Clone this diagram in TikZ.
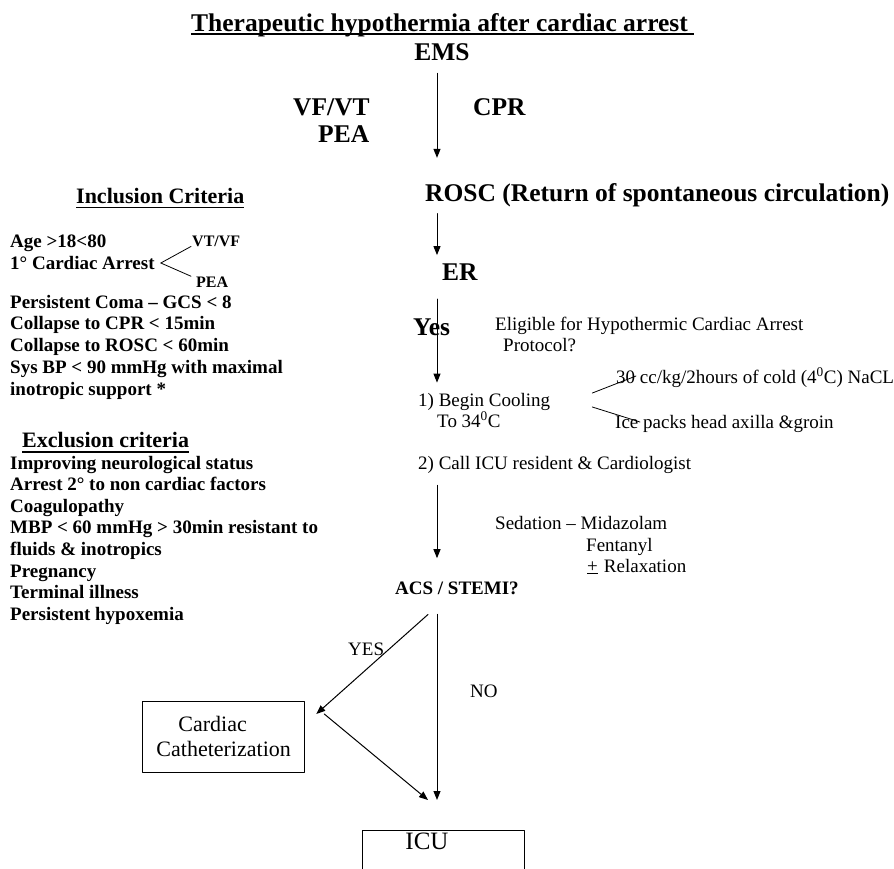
\documentclass[tikz,border=0pt]{standalone}
\usepackage{fontspec}
\setmainfont{Liberation Serif}
\usetikzlibrary{arrows.meta,calc}

\begin{document}
\begin{tikzpicture}[x=1pt, y=-1pt, line join=round, line cap=round, >={Triangle[length=9pt,width=7pt]},
	stage/.style={font=\fontsize{25.5}{30}\selectfont\bfseries, inner sep=0pt, anchor=base west},
	crithead/.style={font=\fontsize{22}{26}\selectfont\bfseries, inner sep=0pt, anchor=base west},
	crit/.style={font=\fontsize{19}{21.5}\selectfont\bfseries, inner sep=0pt, anchor=base west},
	forklbl/.style={font=\fontsize{16}{19}\selectfont\bfseries, inner sep=0pt, anchor=base west},
	txt/.style={font=\fontsize{19}{21.5}\selectfont, inner sep=0pt, anchor=base west},
	boxed/.style={draw, line width=0.9pt, font=\fontsize{22}{25}\selectfont},
	flow/.style={->, line width=1pt},
	tick/.style={line width=0.8pt}]
	\useasboundingbox (0,0) rectangle (894,868);
	\coordinate (spine) at (437,0);
	% title and EMS part
	\node[stage] (title) at (191,31) {Therapeutic hypothermia after cardiac arrest};
	\draw[line width=2.5pt, line cap=butt] ([yshift=-3pt]title.base west) -- ([xshift=6pt,yshift=-3pt]title.base east);
	\node[stage, anchor=base] (ems) at (442,60) {EMS};
	\node[stage] (vfvt) at (293,115) {VF/VT};
	\node[stage] (pea) at (318,142) {PEA};
	\node[stage] (cpr) at (473,115) {CPR};
	\node[stage] (rosc) at (425,201) {ROSC (Return of spontaneous circulation)};
	\node[stage] (er) at (442,280) {ER};
	\node[stage] (yes) at (413,335) {Yes};
	\node[txt] (elig) at (495,330) {Eligible for Hypothermic Cardiac Arrest};
	\node[txt] (proto) at (503,351) {Protocol?};
	% cooling
	\node[txt] (cool) at (418,406) {1) Begin Cooling};
	\node[txt] (target) at (437,427) {To 34\textsuperscript{0}C};
	\node[txt] (saline) at (616,383) {30 cc/kg/2hours of cold (4\textsuperscript{0}C) NaCL};
	\node[txt] (ice) at (615,428) {Ice packs head axilla \&groin};
	\draw[tick] ([xshift=42pt,yshift=13pt]cool.base east) -- ([xshift=20pt,yshift=7pt]saline.base west);
	\draw[tick] ([xshift=42pt,yshift=-1pt]cool.base east) -- ([xshift=25pt,yshift=6pt]ice.base west);
	\node[txt] (call) at (418,469) {2) Call ICU resident \& Cardiologist};
	\node[txt] (sed) at (495,529) {Sedation -- Midazolam};
	\node[txt] (fent) at (586,551) {Fentanyl};
	\node[txt] (relax) at (587,572) {\underline{+}\hspace{6pt}Relaxation};
	\node[crit] (acs) at (395,594) {ACS / STEMI?};
	\node[txt] (yeslbl) at (348,655) {YES};
	\node[txt] (nolbl) at (470,697) {NO};
	\node[boxed, align=left, inner xsep=14pt, minimum height=71pt, anchor=north west] (cath) at (142,701) {\hspace*{22pt}Cardiac\\Catheterization};
	\node[boxed, anchor=north west, inner xsep=43pt, inner ysep=2pt, text height=17pt, text depth=32pt, text width=76pt, align=left, font=\fontsize{25}{30}\selectfont] (icu) at (362,830) {ICU};
	% spine arrows
	\draw[flow, shorten <=13pt, shorten >=25pt] (ems.south -| spine) -- (rosc.north -| spine);
	\draw[flow, shorten <=7pt, shorten >=8pt] (rosc.south -| spine) -- (er.north -| spine);
	\draw[flow, shorten <=19pt, shorten >=10pt] (er.south -| spine) -- (cool.north -| spine);
	\draw[flow, shorten <=12pt, shorten >=23pt] (call.south -| spine) -- (acs.north -| spine);
	\draw[flow, shorten <=20pt, shorten >=30pt] (acs.south -| spine) -- (icu.north -| spine);
	\coordinate (split) at ([xshift=-9pt,yshift=-20pt]acs.south -| spine);
	\draw[flow] (split) -- ([xshift=11pt,yshift=-13pt]cath.north east);
	\draw[flow] ([xshift=19pt,yshift=-13pt]cath.north east) -- ([xshift=-9pt,yshift=30pt]icu.north -| spine);
	% inclusion criteria
	\node[crithead] (inclhead) at (76,203) {Inclusion Criteria};
	\draw[line width=1.7pt, line cap=butt] ([yshift=-4.5pt]inclhead.base west) -- ([yshift=-4.5pt]inclhead.base east);
	\node[crit] (age) at (10,247) {Age >18<80};
	\node[crit] (arrest) at (10,269) {1° Cardiac Arrest};
	\node[forklbl] (vtvf) at (192,246) {VT/VF};
	\node[forklbl] (peasub) at (196,287) {PEA};
	\coordinate (fork) at ([xshift=6pt,yshift=6pt]arrest.base east);
	\draw[tick] (fork) -- ([xshift=-1pt]vtvf.south west);
	\draw[tick] (fork) -- ([xshift=-5pt]peasub.north west);
	\foreach \line [count=\i from 0] in {Persistent Coma -- GCS < 8, Collapse to CPR < 15min,
		Collapse to ROSC < 60min, Sys BP < 90 mmHg with maximal, inotropic support *}
		\node[crit] (inc\i) at (10,{308+21.75*\i}) {\line};
	% exclusion criteria
	\node[crithead] (exclhead) at (22,447) {Exclusion criteria};
	\draw[line width=1.7pt, line cap=butt] ([yshift=-5pt]exclhead.base west) -- ([yshift=-5pt]exclhead.base east);
	\foreach \line [count=\i from 0] in {Improving neurological status, Arrest 2° to non cardiac factors,
		Coagulopathy, MBP < 60 mmHg > 30min resistant to, fluids \& inotropics, Pregnancy,
		Terminal illness, Persistent hypoxemia}
		\node[crit] (exc\i) at (10,{469+21.6*\i}) {\line};
\end{tikzpicture}
\end{document}
